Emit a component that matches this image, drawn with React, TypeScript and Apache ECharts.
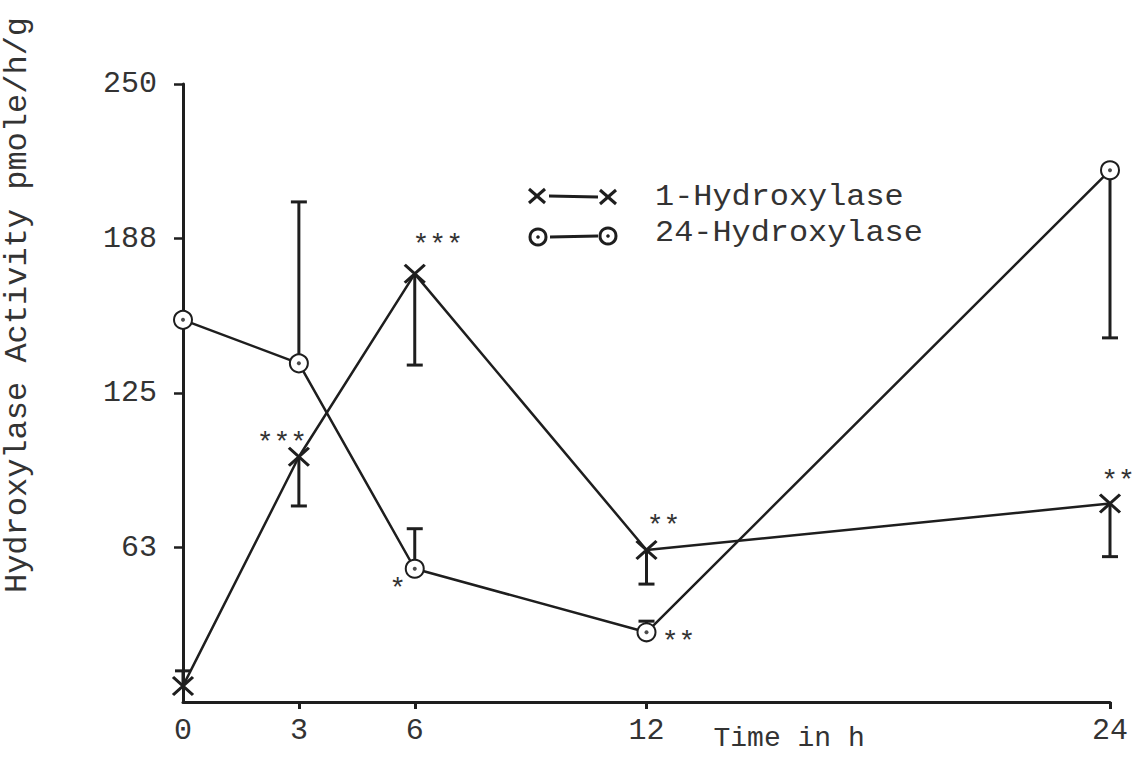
import React, { useEffect, useRef } from 'react';
import * as echarts from 'echarts';

// Sampling times (h) and axis tick labels
const hours = [0, 3, 6, 12, 24];
const xTickValues = [0, 3, 6, 12, 24];
const xTickLabels = ['0', '3', '6', '12', '24'];
const yTickValues = [62.5, 125, 187.5, 250];
const yTickLabels = ['63', '125', '188', '250'];

// 1-Hydroxylase: mean activity, end of the one-sided error bar, significance marks
const hyd1 = [6.5, 99.2, 173.2, 61.5, 80.3];
const hyd1ErrEnd = [12.6, 79.3, 136.3, 47.7, 58.8];
const hyd1Sig = ['', '***', '***', '**', '**'];

// 24-Hydroxylase: mean activity, end of the one-sided error bar, significance marks
const hyd24 = [154.6, 137.0, 53.9, 28.2, 215.1];
const hyd24ErrEnd = [null, 202.3, 70.1, 32.7, 147.3];
const hyd24Sig = ['', '', '*', '**', ''];

const seriesNames = ['1-Hydroxylase', '24-Hydroxylase'];
const yAxisTitle = 'Hydroxylase Activity pmole/h/g';
const xAxisTitle = 'Time in h';

// Placement of the significance marks around each marker (pixels)
const hyd1SigOffset = [[0, 0], [-17, -13], [23, -28], [17, -23], [8, -22]];
const hyd24SigOffset = [[0, 0], [0, 0], [-17, 21], [32, 10], [0, 0]];

const INK = '#1e1e1e';
const TEXT = '#333333';
const FONT = '"Liberation Mono", "Courier New", monospace';
const CROSS = 'path://M0,0L20,18M20,0L0,18';

function errorBars(name: string, vals: number[], ends: (number | null)[]) {
  const data = hours
    .map((h, i) => (ends[i] == null ? null : [h, vals[i], ends[i] as number]))
    .filter((d) => d !== null);
  return {
    type: 'custom',
    name,
    silent: true,
    z: 1,
    data,
    renderItem: (_params: any, api: any) => {
      const p = api.coord([api.value(0), api.value(1)]);
      const e = api.coord([api.value(0), api.value(2)]);
      return {
        type: 'group',
        children: [
          { type: 'line', shape: { x1: p[0], y1: p[1], x2: e[0], y2: e[1] }, style: { stroke: INK, lineWidth: 3 } },
          { type: 'line', shape: { x1: e[0] - 8, y1: e[1], x2: e[0] + 8, y2: e[1] }, style: { stroke: INK, lineWidth: 3 } },
        ],
      };
    },
  };
}

function pointsWithMarks(vals: number[], marks: string[], offsets: number[][]) {
  return hours.map((h, i) => ({
    value: [h, vals[i]],
    label: marks[i]
      ? { show: true, formatter: marks[i], offset: offsets[i] }
      : { show: false },
  }));
}

function legendCross(cx: number, cy: number) {
  return {
    type: 'group',
    children: [
      { type: 'line', shape: { x1: cx - 8, y1: cy - 7, x2: cx + 8, y2: cy + 7 }, style: { stroke: INK, lineWidth: 3 } },
      { type: 'line', shape: { x1: cx + 8, y1: cy - 7, x2: cx - 8, y2: cy + 7 }, style: { stroke: INK, lineWidth: 3 } },
    ],
  };
}

function legendRing(cx: number, cy: number) {
  return {
    type: 'group',
    children: [
      { type: 'circle', shape: { cx, cy, r: 8 }, style: { fill: '#fff', stroke: INK, lineWidth: 3 } },
      { type: 'circle', shape: { cx, cy, r: 1.8 }, style: { fill: INK } },
    ],
  };
}

export default function App() {
  const ref = useRef<HTMLDivElement>(null);

  useEffect(() => {
    if (!ref.current) return;
    const chart = echarts.init(ref.current, null, { renderer: 'svg' });

    const markLabel = {
      show: false,
      position: 'inside',
      fontFamily: FONT,
      fontSize: 28,
      color: TEXT,
    };

    const option: any = {
      animation: false,
      backgroundColor: '#ffffff',
      grid: { left: 183, right: 26, top: 84, bottom: 57, containLabel: false, outerBoundsMode: 'none' },
      xAxis: {
        type: 'value',
        min: 0,
        max: 24,
        name: xAxisTitle,
        nameLocation: 'middle',
        nameGap: 22,
        nameMoveOverlap: false,
        nameTextStyle: { fontFamily: FONT, fontSize: 28, color: TEXT, align: 'left', padding: [0, 0, 0, 67] },
        axisLine: { show: true, onZero: false, lineStyle: { color: INK, width: 3 } },
        axisTick: { show: true, length: 7, customValues: xTickValues.slice(1), lineStyle: { color: INK, width: 3 } },
        axisLabel: {
          customValues: xTickValues,
          margin: 14,
          fontFamily: FONT,
          fontSize: 30,
          color: TEXT,
          formatter: (v: number) => xTickLabels[xTickValues.indexOf(v)] ?? '',
        },
        splitLine: { show: false },
      },
      yAxis: {
        type: 'value',
        min: 0,
        max: 250,
        name: yAxisTitle,
        nameLocation: 'middle',
        nameGap: 150,
        nameTextStyle: { fontFamily: FONT, fontSize: 32, color: TEXT, padding: [0, 0, 0, 176] },
        axisLine: { show: true, onZero: false, lineStyle: { color: INK, width: 3 } },
        axisTick: { show: true, length: 9, customValues: yTickValues, lineStyle: { color: INK, width: 2.5 } },
        axisLabel: {
          customValues: yTickValues,
          margin: 26,
          fontFamily: FONT,
          fontSize: 30,
          color: TEXT,
          formatter: (v: number) => yTickLabels[yTickValues.indexOf(v)] ?? '',
        },
        splitLine: { show: false },
      },
      graphic: [
        {
          type: 'group',
          children: [
            legendCross(537, 196),
            { type: 'line', shape: { x1: 549, y1: 196, x2: 598, y2: 197 }, style: { stroke: INK, lineWidth: 3 } },
            legendCross(608, 197),
            {
              type: 'text', x: 655, y: 197, scaleX: 1.1,
              style: { text: seriesNames[0], fontFamily: FONT, fontSize: 29, fill: TEXT, verticalAlign: 'middle' },
            },
            legendRing(538, 237),
            { type: 'line', shape: { x1: 550, y1: 237, x2: 598, y2: 236 }, style: { stroke: INK, lineWidth: 3 } },
            legendRing(608, 236),
            {
              type: 'text', x: 655, y: 233, scaleX: 1.1,
              style: { text: seriesNames[1], fontFamily: FONT, fontSize: 29, fill: TEXT, verticalAlign: 'middle' },
            },
          ],
        },
      ],
      series: [
        errorBars(seriesNames[0] + ' SEM', hyd1, hyd1ErrEnd),
        errorBars(seriesNames[1] + ' SEM', hyd24, hyd24ErrEnd),
        {
          type: 'line',
          name: seriesNames[0],
          z: 3,
          data: pointsWithMarks(hyd1, hyd1Sig, hyd1SigOffset),
          symbol: CROSS,
          symbolSize: [20, 18],
          itemStyle: { color: INK, borderColor: INK, borderWidth: 3 },
          lineStyle: { color: INK, width: 2.5 },
          label: markLabel,
        },
        {
          type: 'line',
          name: seriesNames[1],
          z: 3,
          data: pointsWithMarks(hyd24, hyd24Sig, hyd24SigOffset),
          symbol: 'emptyCircle',
          symbolSize: 18,
          itemStyle: { color: INK, borderColor: INK, borderWidth: 3 },
          lineStyle: { color: INK, width: 2.5 },
          label: markLabel,
        },
        {
          type: 'scatter',
          name: seriesNames[1] + ' centre',
          z: 4,
          silent: true,
          data: hours.map((h, i) => [h, hyd24[i]]),
          symbol: 'circle',
          symbolSize: 4,
          itemStyle: { color: INK },
        },
      ],
    };

    chart.setOption(option);
    return () => chart.dispose();
  }, []);

  return (
    <div
      ref={ref}
      style={{ position: 'absolute', left: 0, top: 0, width: 1136, height: 759, background: '#fff' }}
    />
  );
}
